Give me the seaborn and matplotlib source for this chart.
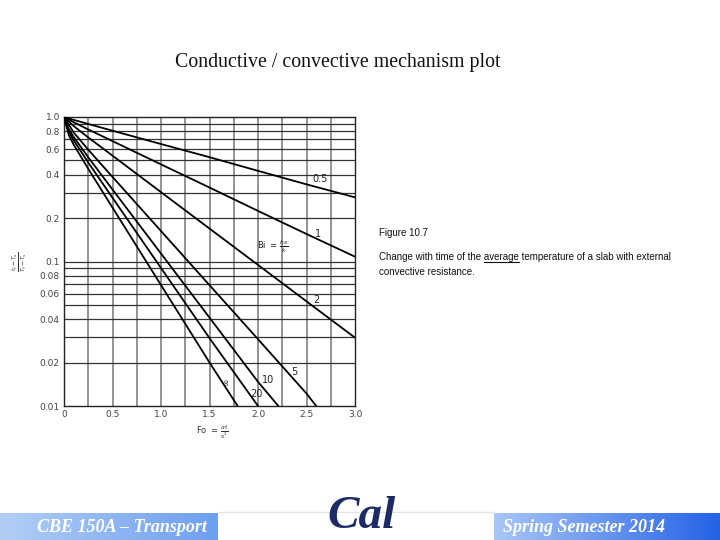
import numpy as np
import pandas as pd
import matplotlib
matplotlib.use('Agg')
import matplotlib.pyplot as plt
import seaborn as sns
from matplotlib.colors import LinearSegmentedColormap
from matplotlib.ticker import NullLocator

# values (Fo, average temperature ratio), one curve per Biot number
bi_names = ['0.5', '1', '2', '5', '10', '20', '∞']
fo_05 = [0, 0.1, 0.25, 0.5, 1.0, 1.5, 2.0, 2.5, 3.0]
ratio_05 = [1.0, 0.955, 0.895, 0.804, 0.650, 0.527, 0.424, 0.342, 0.278]
fo_1 = [0, 0.1, 0.25, 0.5, 1.0, 1.5, 2.0, 2.5, 3.0]
ratio_1 = [1.0, 0.920, 0.820, 0.681, 0.470, 0.325, 0.224, 0.155, 0.108]
fo_2 = [0, 0.1, 0.25, 0.5, 1.0, 1.5, 2.0, 2.5, 3.0]
ratio_2 = [1.0, 0.866, 0.722, 0.540, 0.302, 0.169, 0.0947, 0.0530, 0.0297]
fo_5 = [0, 0.1, 0.25, 0.5, 1.0, 1.5, 2.0, 2.5, 2.6]
ratio_5 = [1.0, 0.781, 0.594, 0.385, 0.1625, 0.0686, 0.0290, 0.0122, 0.0100]
fo_10 = [0, 0.05, 0.1, 0.25, 0.5, 1.0, 1.5, 2.0, 2.21]
ratio_10 = [1.0, 0.824, 0.727, 0.526, 0.315, 0.1135, 0.0409, 0.0147, 0.0100]
fo_20 = [0, 0.05, 0.1, 0.25, 0.5, 1.0, 1.5, 2.0]
ratio_20 = [1.0, 0.793, 0.689, 0.484, 0.276, 0.0902, 0.0295, 0.0100]
fo_inf = [0, 0.05, 0.1, 0.25, 0.5, 1.0, 1.5, 1.79]
ratio_inf = [1.0, 0.748, 0.643, 0.438, 0.236, 0.0687, 0.0200, 0.0100]

x_ticks = [0, 0.5, 1.0, 1.5, 2.0, 2.5, 3.0]
x_labels = ['0', '0.5', '1.0', '1.5', '2.0', '2.5', '3.0']
y_ticks = [1.0, 0.8, 0.6, 0.4, 0.2, 0.1, 0.08, 0.06, 0.04, 0.02, 0.01]
y_labels = ['1.0', '0.8', '0.6', '0.4', '0.2', '0.1', '0.08', '0.06', '0.04', '0.02', '0.01']

# curve labels: text, Fo, ratio
curve_labels = [('0.5', 2.64, 0.37), ('1', 2.62, 0.155), ('2', 2.60, 0.054),
                ('5', 2.37, 0.0172), ('10', 2.10, 0.0151), ('20', 1.98, 0.0121)]

W, H = 720, 540

df = pd.concat([
    pd.DataFrame({'Fo': f, 'ratio': r, 'Bi': name})
    for name, f, r in zip(bi_names,
                          [fo_05, fo_1, fo_2, fo_5, fo_10, fo_20, fo_inf],
                          [ratio_05, ratio_1, ratio_2, ratio_5, ratio_10, ratio_20, ratio_inf])
], ignore_index=True)

sns.set_style('white')
plt.rcParams['font.family'] = ['DejaVu Sans']

fig = plt.figure(figsize=(7.2, 5.4), dpi=100)

# overlay in pixel coordinates for the slide decoration
ov = fig.add_axes([0, 0, 1, 1], zorder=0)
ov.axis('off')
ov.patch.set_alpha(0)

left_cmap = LinearSegmentedColormap.from_list('l', ['#b2cef5', '#6d9ff0'])
right_cmap = LinearSegmentedColormap.from_list('r', ['#a9c7f7', '#2462e6'])
grad = np.linspace(0, 1, 256).reshape(1, -1)
ov.imshow(grad, cmap=left_cmap, extent=[0, 218, 540, 513], aspect='auto', zorder=1)
ov.imshow(grad, cmap=right_cmap, extent=[494, 720, 540, 513], aspect='auto', zorder=1)
ov.plot([218, 494], [512, 512], color='#e4e4e4', lw=1, zorder=1)
ov.set_xlim(0, W)
ov.set_ylim(H, 0)

ov.text(338, 63, 'Conductive / convective mechanism plot', fontsize=14.3,
        family='Liberation Serif', ha='center', va='center', color='#111')
ov.text(37, 527, 'CBE 150A – Transport', fontsize=13, family='Liberation Serif',
        weight='bold', style='italic', color='white', ha='left', va='center', zorder=2)
ov.text(503, 527, 'Spring Semester 2014', fontsize=13, family='Liberation Serif',
        weight='bold', style='italic', color='white', ha='left', va='center', zorder=2)
ov.text(362, 538, 'Cal', fontsize=34, family='Liberation Serif', weight='bold',
        style='italic', color='#1c2b64', ha='center', va='bottom', zorder=2)

cap_font = dict(fontsize=7.0, family='Liberation Sans', color='#111')
ov.text(379, 233, 'Figure 10.7', va='center', **cap_font)
line2 = 'Change with time of the average temperature of a slab with external'
ov.text(379, 257, line2, va='center', **cap_font)
ov.text(379, 272, 'convective resistance.', va='center', **cap_font)

# underline the word "average"
renderer = fig.canvas.get_renderer()
def text_width(s):
    t = ov.text(0, 0, s, **cap_font)
    w = t.get_window_extent(renderer).width
    t.remove()
    return w
w_full = text_width('Change with time of the average')
w_word = text_width('average')
ov.plot([379 + w_full - w_word, 379 + w_full], [261.5, 261.5], color='#111', lw=0.8)

# the chart
ax = fig.add_axes([64 / W, 1 - 406 / H, (355 - 64) / W, (406 - 117) / H], zorder=1)
sns.lineplot(data=df, x='Fo', y='ratio', hue='Bi', palette=['black'] * len(bi_names),
             estimator=None, sort=False, legend=False, lw=1.3, ax=ax, zorder=3)
ax.set_yscale('log')
ax.set_xlim(0, 3.0)
ax.set_ylim(0.01, 1.0)
ax.set_xticks(x_ticks)
ax.set_xticklabels(x_labels)
ax.set_yticks(y_ticks)
ax.set_yticklabels(y_labels)
ax.yaxis.set_minor_locator(NullLocator())
ax.tick_params(length=0, labelsize=6.5, colors='#444', pad=3)
ax.set_xlabel('')
ax.set_ylabel('')

for v in [0.25 * i for i in range(1, 12)]:
    ax.axvline(v, color='#8a8a8a', lw=1.3, zorder=1)
for v in [m * d for d in (0.01, 0.1) for m in range(2, 10)] + [0.1]:
    ax.axhline(v, color='#333333', lw=0.9, zorder=1)
for s in ax.spines.values():
    s.set_color('#222')
    s.set_linewidth(1.0)

for txt, x, y in curve_labels:
    ax.text(x, y, txt, fontsize=7, color='#222', ha='center', va='center', zorder=4)
ax.text(1.68, 0.0148, '∞', fontsize=6.5, rotation=90, color='#222',
        ha='center', va='center', zorder=4)
ax.text(2.15, 0.127, r'Bi $=\,\frac{hs}{k}$', fontsize=6, color='#222',
        ha='center', va='center', zorder=4)

fig.text(20 / W, 1 - 262 / H, r'$\frac{t_f - T_s}{T_f - T_s}$', fontsize=6,
         rotation=90, ha='center', va='center', color='#333')
fig.text(212 / W, 1 - 432 / H, r'Fo $=\,\frac{\alpha t}{s^2}$', fontsize=6,
         ha='center', va='center', color='#333')

fig.savefig('out.png', dpi=100)
